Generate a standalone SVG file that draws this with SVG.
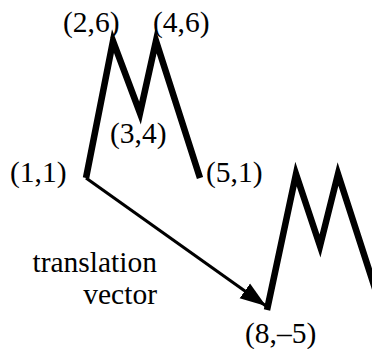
<svg xmlns="http://www.w3.org/2000/svg" width="372" height="349" viewBox="0 0 372 349">
<defs>
<style>
.lbl{font-size:29.5px;fill:#000}
.m{fill:none;stroke:#000;stroke-width:6.5;stroke-linejoin:miter;stroke-miterlimit:10}
.vec{fill:none;stroke:#000;stroke-width:3}
</style>
<marker id="ah" markerUnits="userSpaceOnUse" markerWidth="28" markerHeight="20" refX="26" refY="9" orient="auto" viewBox="0 0 28 18">
<path d="M0,0 L26,9 L0,18 z" fill="#000"/>
</marker>
</defs>
<g id="shape-original">
<polyline class="m" points="86,178 113,41 140,113 156,41 200,178"/>
</g>
<g id="shape-translated">
<polyline class="m" points="267,310 296,174 320,246 338,174 382,310"/>
</g>
<g id="connectors">
<line class="vec" x1="86" y1="178" x2="266" y2="306" marker-end="url(#ah)"/>
</g>
<g id="labels">
<text class="lbl" font-family="Liberation Serif, serif" x="63" y="32">(2,6)</text>
<text class="lbl" font-family="Liberation Serif, serif" x="153" y="32">(4,6)</text>
<text class="lbl" font-family="Liberation Serif, serif" x="110" y="143">(3,4)</text>
<text class="lbl" font-family="Liberation Serif, serif" x="10" y="182">(1,1)</text>
<text class="lbl" font-family="Liberation Serif, serif" x="206" y="182">(5,1)</text>
<text class="lbl" font-family="Liberation Serif, serif" x="157" y="272" text-anchor="end">translation</text>
<text class="lbl" font-family="Liberation Serif, serif" x="157" y="304" text-anchor="end">vector</text>
<text class="lbl" font-family="Liberation Serif, serif" x="245" y="343">(8,–5)</text>
</g>
</svg>
